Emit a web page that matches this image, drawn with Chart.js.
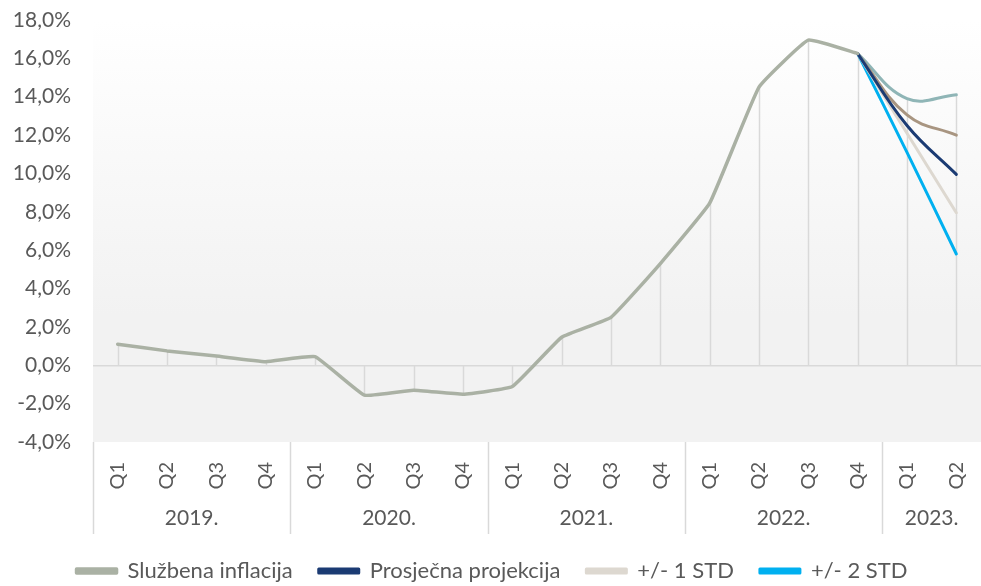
<!DOCTYPE html>
<html>
<head>
<meta charset="utf-8">
<script src="https://cdn.jsdelivr.net/npm/chart.js@4/dist/chart.umd.min.js"></script>
<style>
  html, body { margin: 0; padding: 0; background: #fff; }
  #wrap { width: 981px; height: 586px; }
</style>
</head>
<body>
<div id="wrap"><canvas id="inflationChart"></canvas></div>
<script>
// Kvartali i godine
const quarters = ['Q1', 'Q2', 'Q3', 'Q4', 'Q1', 'Q2', 'Q3', 'Q4', 'Q1', 'Q2', 'Q3', 'Q4', 'Q1', 'Q2', 'Q3', 'Q4', 'Q1', 'Q2'];
const years = ['2019.', '2020.', '2021.', '2022.', '2023.'];
const yearSpans = [4, 4, 4, 4, 2];

// Vrijednosti (%)
const sluzbenaInflacija = [1.1, 0.75, 0.48, 0.19, 0.45, -1.56, -1.3, -1.51, -1.11, 1.46, 2.5, 5.3, 8.45, 14.5, 16.95, 16.25, null, null];
const prosjecnaProjekcija = [null, null, null, null, null, null, null, null, null, null, null, null, null, null, null, 16.25, 12.5, 9.95];
const minus1Std = [null, null, null, null, null, null, null, null, null, null, null, null, null, null, null, 16.25, 12.1, 7.95];
const plus1Std = [null, null, null, null, null, null, null, null, null, null, null, null, null, null, null, 16.25, 13.05, 12.0];
const minus2Std = [null, null, null, null, null, null, null, null, null, null, null, null, null, null, null, 16.25, 11.1, 5.8];
const plus2Std = [null, null, null, null, null, null, null, null, null, null, null, null, null, null, null, 16.25, 13.9, 14.1];

const yTicks = { min: -4, max: 18, step: 2 };
const FONT = 'Lato, "Open Sans", sans-serif';

// Pozadina područja grafa (gradijent)
const plotBackground = {
    id: 'plotBackground',
    beforeDraw(chart) {
        const { ctx, chartArea: a } = chart;
        const g = ctx.createLinearGradient(0, a.top, 0, a.bottom);
        g.addColorStop(0, '#ffffff');
        g.addColorStop(0.7, '#f2f2f2');
        g.addColorStop(1, '#f2f2f2');
        ctx.save();
        ctx.fillStyle = g;
        ctx.fillRect(a.left, a.top, a.right - a.left, a.bottom - a.top);
        ctx.restore();
    }
};

// Okomite linije od točke do nule
const dropLines = {
    id: 'dropLines',
    beforeDatasetsDraw(chart) {
        const { ctx } = chart;
        const x = chart.scales.x, y = chart.scales.y;
        const y0 = y.getPixelForValue(0);
        ctx.save();
        ctx.strokeStyle = '#d9d9d9';
        ctx.lineWidth = 1.5;
        quarters.forEach((q, i) => {
            const vals = chart.data.datasets.map(d => d.data[i]).filter(v => v !== null);
            if (!vals.length) return;
            const hi = Math.max(...vals), lo = Math.min(...vals);
            const v = hi > 0 ? hi : lo;
            const px = Math.round(x.getPixelForValue(i)) + 0.5;
            ctx.beginPath();
            ctx.moveTo(px, y0);
            ctx.lineTo(px, y.getPixelForValue(v));
            ctx.stroke();
        });
        ctx.restore();
    }
};

// Godine ispod kvartala i razdjelnici
const yearAxis = {
    id: 'yearAxis',
    afterDraw(chart) {
        const { ctx, chartArea: a } = chart;
        const x = chart.scales.x;
        const step = x.getPixelForValue(1) - x.getPixelForValue(0);
        ctx.save();
        ctx.strokeStyle = '#d9d9d9';
        ctx.lineWidth = 1.5;
        ctx.fillStyle = '#595959';
        ctx.font = '21px ' + FONT;
        ctx.textAlign = 'center';
        ctx.textBaseline = 'middle';
        let start = 0;
        years.forEach((yr, k) => {
            const left = x.getPixelForValue(start) - step / 2;
            const right = x.getPixelForValue(start + yearSpans[k] - 1) + step / 2;
            const lx = Math.round(left) + 0.5;
            ctx.beginPath();
            ctx.moveTo(lx, a.bottom);
            ctx.lineTo(lx, a.bottom + 92);
            ctx.stroke();
            ctx.fillText(yr, (left + right) / 2, a.bottom + 76);
            start += yearSpans[k];
        });
        ctx.restore();
    }
};

const hiddenInLegend = ['+1 STD gornja', '+2 STD gornja'];

new Chart(document.getElementById('inflationChart'), {
    type: 'line',
    data: {
        labels: quarters,
        datasets: [
            { label: 'Službena inflacija', data: sluzbenaInflacija, borderColor: '#aab1a4', backgroundColor: '#aab1a4', borderWidth: 3.5, tension: 0.1 },
            { label: 'Prosječna projekcija', data: prosjecnaProjekcija, borderColor: '#1b3b73', backgroundColor: '#1b3b73', borderWidth: 3, tension: 0.4 },
            { label: '+/- 1 STD', data: minus1Std, borderColor: '#ddd8d0', backgroundColor: '#ddd8d0', borderWidth: 3, tension: 0.4 },
            { label: '+/- 2 STD', data: minus2Std, borderColor: '#00b0f0', backgroundColor: '#00b0f0', borderWidth: 3, tension: 0.4 },
            { label: '+1 STD gornja', data: plus1Std, borderColor: '#a89581', backgroundColor: '#a89581', borderWidth: 3, tension: 0.4 },
            { label: '+2 STD gornja', data: plus2Std, borderColor: '#8fb5b6', backgroundColor: '#8fb5b6', borderWidth: 3, tension: 0.4 }
        ]
    },
    options: {
        responsive: true,
        maintainAspectRatio: false,
        animation: false,
        layout: { padding: { top: 20, right: -3, left: 0, bottom: -6 } },
        elements: { point: { radius: 0 }, line: { borderCapStyle: 'round', borderJoinStyle: 'round' } },
        plugins: {
            tooltip: { enabled: false },
            legend: {
                position: 'bottom',
                labels: {
                    color: '#595959',
                    font: { family: FONT, size: 22 },
                    boxWidth: 40,
                    boxHeight: 4,
                    padding: 26,
                    filter: item => !hiddenInLegend.includes(item.text)
                }
            }
        },
        scales: {
            x: {
                offset: true,
                grid: { display: false },
                border: { display: false },
                ticks: {
                    color: '#595959',
                    font: { family: FONT, size: 20 },
                    minRotation: 90,
                    maxRotation: 90,
                    padding: 12,
                    autoSkip: false
                },
                afterFit(scale) {
                    scale.height = 92;
                    scale.paddingLeft = 0;
                    scale.paddingRight = 0;
                }
            },
            y: {
                min: yTicks.min,
                max: yTicks.max,
                border: { display: false },
                grid: {
                    drawTicks: false,
                    lineWidth: 1.5,
                    color: c => c.tick.value === 0 ? '#d9d9d9' : 'rgba(0,0,0,0)'
                },
                ticks: {
                    stepSize: yTicks.step,
                    color: '#595959',
                    font: { family: FONT, size: 21 },
                    padding: 22,
                    callback: v => v.toFixed(1).replace('.', ',') + '%'
                },
                afterFit(scale) {
                    scale.width = 93;
                    scale.paddingTop = 12;
                    scale.paddingBottom = 12;
                }
            }
        }
    },
    plugins: [plotBackground, dropLines, yearAxis]
});
</script>
</body>
</html>
